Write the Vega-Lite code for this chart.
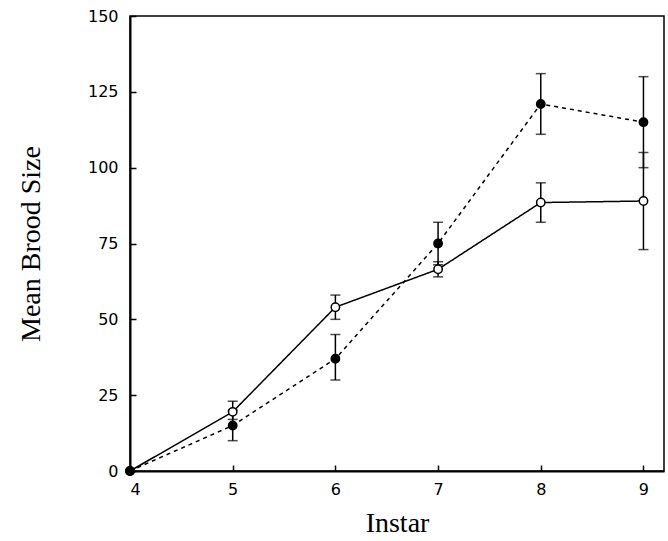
{
  "$schema": "https://vega.github.io/schema/vega-lite/v6.json",
  "width": 534,
  "height": 455,
  "autosize": {"type": "none"},
  "padding": {"left": 130, "top": 16, "right": 4, "bottom": 70},
  "background": "white",
  "config": {
    "view": {"stroke": "black", "strokeWidth": 1.5},
    "axis": {
      "domainColor": "black", "domainWidth": 2, "tickColor": "black", "tickWidth": 1.5,
      "grid": false, "labelColor": "black", "labelFont": "DejaVu Sans", "labelFontSize": 16,
      "titleFont": "Liberation Serif", "titleFontSize": 28, "titleFontWeight": "normal", "titleColor": "black"
    }
  },
  "data": {
    "values": [
      {"instar": 4, "group": "open", "mean": 0, "lo": 0, "hi": 0},
      {"instar": 5, "group": "open", "mean": 19.5, "lo": 17, "hi": 23},
      {"instar": 6, "group": "open", "mean": 54, "lo": 50, "hi": 58},
      {"instar": 7, "group": "open", "mean": 66.5, "lo": 64, "hi": 69},
      {"instar": 8, "group": "open", "mean": 88.5, "lo": 82, "hi": 95},
      {"instar": 9, "group": "open", "mean": 89, "lo": 73, "hi": 105},
      {"instar": 4, "group": "filled", "mean": 0, "lo": 0, "hi": 0},
      {"instar": 5, "group": "filled", "mean": 15, "lo": 10, "hi": 20},
      {"instar": 6, "group": "filled", "mean": 37, "lo": 30, "hi": 45},
      {"instar": 7, "group": "filled", "mean": 75, "lo": 68, "hi": 82},
      {"instar": 8, "group": "filled", "mean": 121, "lo": 111, "hi": 131},
      {"instar": 9, "group": "filled", "mean": 115, "lo": 100, "hi": 130}
    ]
  },
  "encoding": {
    "x": {"field": "instar", "type": "quantitative",
      "scale": {"domain": [4, 9.2], "nice": false, "zero": false},
      "axis": {"values": [4, 5, 6, 7, 8, 9], "title": "Instar", "tickSize": -6, "labelPadding": 16, "titlePadding": 12}},
    "y": {"field": "mean", "type": "quantitative",
      "scale": {"domain": [0, 150], "nice": false},
      "axis": {"values": [0, 25, 50, 75, 100, 125, 150], "title": "Mean Brood Size", "tickSize": -6, "labelPadding": 18, "titlePadding": 42}}
  },
  "layer": [
    {"transform": [{"filter": "datum.instar > 4"}],
     "mark": {"type": "rule", "color": "black", "strokeWidth": 1.5},
     "encoding": {"y": {"field": "lo", "type": "quantitative"}, "y2": {"field": "hi"}}},
    {"transform": [{"filter": "datum.instar > 4"}],
     "mark": {"type": "tick", "color": "black", "orient": "horizontal", "size": 10, "thickness": 1.5},
     "encoding": {"y": {"field": "lo", "type": "quantitative"}}},
    {"transform": [{"filter": "datum.instar > 4"}],
     "mark": {"type": "tick", "color": "black", "orient": "horizontal", "size": 10, "thickness": 1.5},
     "encoding": {"y": {"field": "hi", "type": "quantitative"}}},
    {"mark": {"type": "line", "color": "black", "strokeWidth": 1.5},
     "encoding": {
       "detail": {"field": "group"},
       "strokeDash": {"field": "group", "type": "nominal", "scale": {"domain": ["filled", "open"], "range": [[4, 4], [1, 0]]}, "legend": null}
     }},
    {"mark": {"type": "point", "shape": "circle", "size": 70, "strokeWidth": 1.5, "opacity": 1, "filled": true, "stroke": "black"},
     "encoding": {
       "fill": {"field": "group", "type": "nominal", "scale": {"domain": ["filled", "open"], "range": ["black", "white"]}, "legend": null}
     }}
  ]
}
